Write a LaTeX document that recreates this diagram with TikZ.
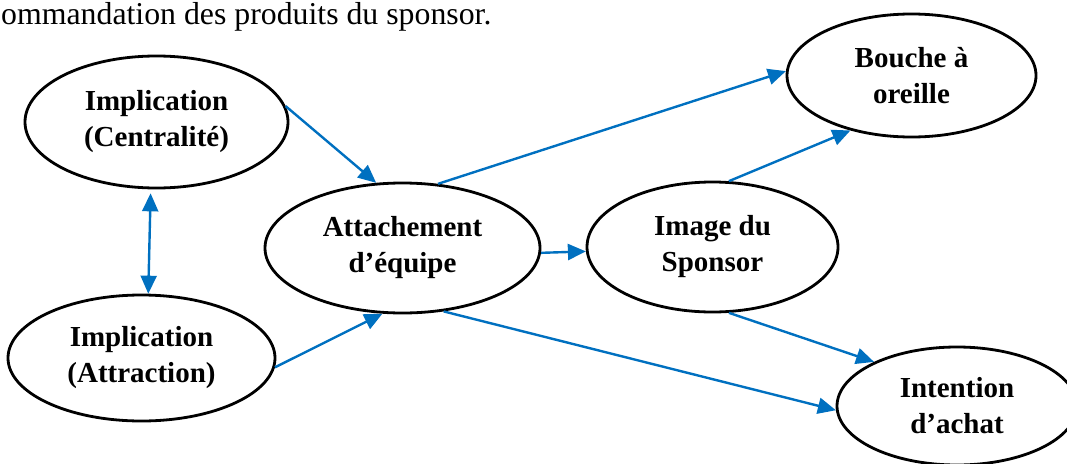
\documentclass[tikz,border=0pt]{standalone}
\usepackage{fontspec}
\setmainfont{Liberation Serif}
\usetikzlibrary{arrows.meta,shapes.geometric}
\definecolor{arrowblue}{HTML}{0070C0}
\tikzset{
  bubble/.style={ellipse, draw=black, line width=2.8pt, inner sep=0pt,
    align=center, font=\fontsize{29}{36}\selectfont\bfseries},
  tip/.style={Triangle[length=18pt,width=16pt]},
  link/.style={draw=arrowblue, line width=2.4pt, -{Triangle[length=18pt,width=16pt]}},
  dlink/.style={draw=arrowblue, line width=2.4pt, {Triangle[length=18pt,width=16pt]}-{Triangle[length=18pt,width=16pt]}}
}
\begin{document}
\begin{tikzpicture}[x=1pt,y=-1pt]
\useasboundingbox (0,0) rectangle (1067,463);
\node[anchor=base west, font=\fontsize{31.8}{38}\selectfont, inner sep=0pt] (top) at (1,24) {ommandation des produits du sponsor.};
\node[bubble, minimum width=263pt, minimum height=132pt] (cent) at (156.5,122) {Implication\\(Centralité)};
\node[bubble, minimum width=267pt, minimum height=126pt] (attr) at (141.5,358) {Implication\\(Attraction)};
\node[bubble, minimum width=275pt, minimum height=130pt] (att) at (402.5,248) {Attachement\\d’équipe};
\node[bubble, minimum width=251pt, minimum height=130pt] (img) at (712.5,247) {Image du\\Sponsor};
\node[bubble, minimum width=249pt, minimum height=123pt] (bao) at (911.5,75.5) {Bouche à\\oreille};
\node[bubble, minimum width=240pt, minimum height=118pt] (int) at (957,406) {Intention\\d’achat};
\draw[link] (cent.7.4) -- (att.112.6);
\draw[dlink] ([yshift=-4pt]cent.265) -- (attr.84);
\draw[link] (attr.-4.3) -- (att.253);
\draw[link] (att.61) -- (bao.178.8);
\draw[link] (att.-2.1) -- (img.182.7);
\draw[link] (img.76.4) -- (bao.222);
\draw[link] (img.284.2) -- (int.152);
\draw[link] (att.303.2) -- (int.182);
\end{tikzpicture}
\end{document}
